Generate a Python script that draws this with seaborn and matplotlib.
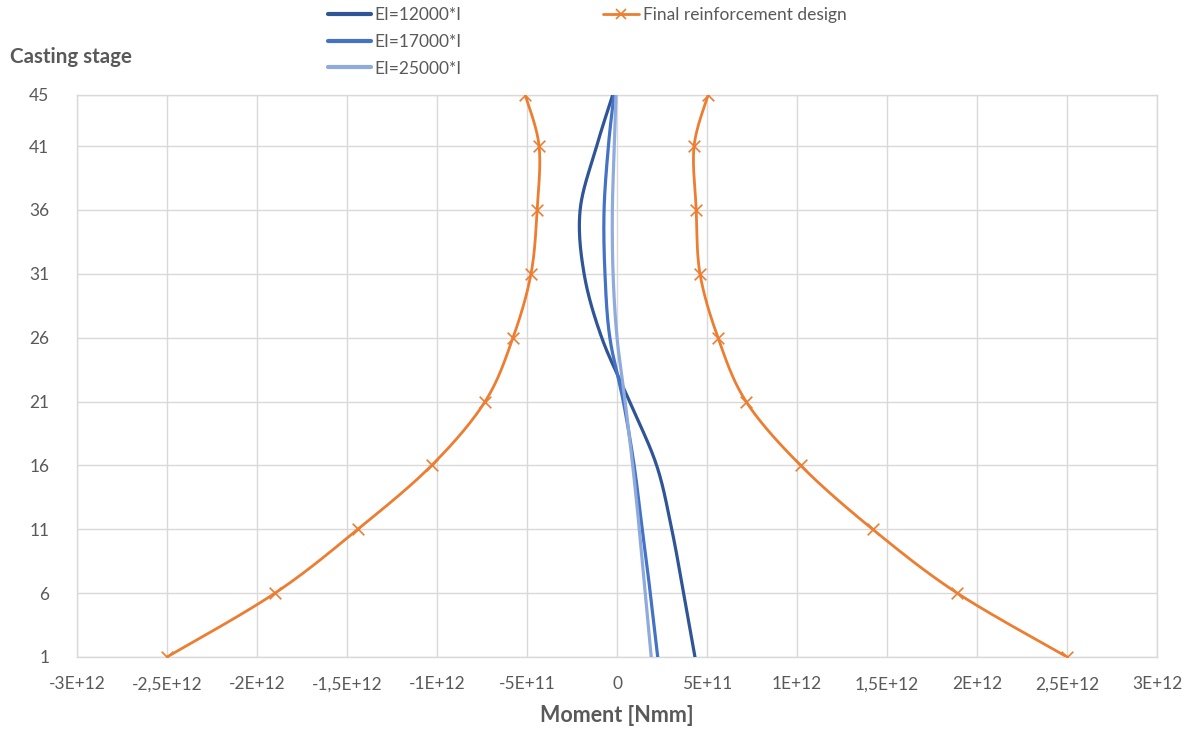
import numpy as np
import matplotlib
matplotlib.use("Agg")
import matplotlib.pyplot as plt
from matplotlib.lines import Line2D
import seaborn as sns

# Casting stages (vertical axis)
stages = [1, 6, 11, 16, 21, 26, 31, 36, 41, 45]

# Bending moment per stiffness assumption, in units of 1E12 Nmm
ei_12000 = [0.433, 0.37, 0.304, 0.22, 0.07, -0.085, -0.183, -0.205, -0.113, -0.024]
ei_17000 = [0.226, 0.185, 0.14, 0.095, 0.035, -0.04, -0.067, -0.072, -0.048, -0.017]
ei_25000 = [0.19, 0.157, 0.124, 0.087, 0.045, 0.0, -0.022, -0.026, -0.015, -0.006]

# Capacity envelope of the final reinforcement design (1E12 Nmm)
design_neg = [-2.5, -1.90, -1.44, -1.03, -0.733, -0.578, -0.478, -0.444, -0.433, -0.51]
design_pos = [2.5, 1.89, 1.42, 1.02, 0.717, 0.561, 0.461, 0.44, 0.428, 0.506]

series_labels = ["EI=12000*I", "EI=17000*I", "EI=25000*I"]
design_label = "Final reinforcement design"

x_ticks = [-3, -2.5, -2, -1.5, -1, -0.5, 0, 0.5, 1, 1.5, 2, 2.5, 3]
x_tick_labels = ["-3E+12", "-2,5E+12", "-2E+12", "-1,5E+12", "-1E+12", "-5E+11", "0",
                 "5E+11", "1E+12", "1,5E+12", "2E+12", "2,5E+12", "3E+12"]

blue_colors = ["#2F5597", "#4472C4", "#8FAADC"]
orange = "#ED7D31"
text_color = "#595959"
grid_color = "#D9D9D9"


def smooth(xs, ys, n=24):
    """Catmull-Rom style smoothing used only for rendering the line path."""
    p = np.column_stack([xs, ys]).astype(float)
    p = np.vstack([p[0], p, p[-1]])
    out = []
    t = np.linspace(0, 1, n, endpoint=False)
    for i in range(1, len(p) - 2):
        p0, p1, p2, p3 = p[i - 1], p[i], p[i + 1], p[i + 2]
        c1 = p1 + (p2 - p0) / 6.0
        c2 = p2 - (p3 - p1) / 6.0
        seg = ((1 - t) ** 3)[:, None] * p1 + (3 * (1 - t) ** 2 * t)[:, None] * c1 \
            + (3 * (1 - t) * t ** 2)[:, None] * c2 + (t ** 3)[:, None] * p2
        out.append(seg)
    out.append(p[-2][None, :])
    out = np.vstack(out)
    return out[:, 0], out[:, 1]


sns.set_theme(style="whitegrid")
plt.rcParams["font.family"] = ["Lato", "DejaVu Sans"]

fig = plt.figure(figsize=(11.89, 7.29), dpi=100)
ax = fig.add_axes([0.0648, 0.0988, 0.9083, 0.7709])
ax.set_facecolor("white")

for vals, col in zip([ei_12000, ei_17000, ei_25000], blue_colors):
    sx, sy = smooth(vals, stages)
    sns.lineplot(x=sx, y=sy, sort=False, estimator=None, color=col, lw=2.3, ax=ax, zorder=3)

for vals in [design_neg, design_pos]:
    sx, sy = smooth(vals, stages)
    sns.lineplot(x=sx, y=sy, sort=False, estimator=None, color=orange, lw=2.0, ax=ax, zorder=4)
    sns.scatterplot(x=vals, y=stages, marker="x", color=orange, s=70, linewidth=1.2, ax=ax, zorder=5)

ax.set_xlim(-3, 3)
ax.set_ylim(1, 45)
ax.set_xticks(x_ticks)
ax.set_xticklabels(x_tick_labels)
ax.set_yticks(stages)
ax.set_yticklabels([str(s) for s in stages])
ax.grid(True, color=grid_color, lw=1.0)
for sp in ax.spines.values():
    sp.set_color(grid_color)
    sp.set_linewidth(1.0)
ax.tick_params(axis="both", length=0, labelsize=12.5, labelcolor=text_color)
ax.tick_params(axis="x", pad=14)
ax.tick_params(axis="y", pad=20)

ax.set_xlabel("Moment [Nmm]", fontsize=15.5, fontweight="bold", color=text_color, labelpad=9)
ax.set_ylabel("")
fig.text(10 / 1189, 1 - 57 / 729, "Casting stage", fontsize=14.8, fontweight="bold",
         color=text_color, ha="left", va="center")

blue_handles = [Line2D([], [], color=c, lw=3) for c in blue_colors]
leg1 = fig.legend(blue_handles, series_labels, loc="upper left",
                  bbox_to_anchor=(328 / 1189, 1 - 7 / 729), frameon=False,
                  fontsize=12.5, handlelength=2.5, handletextpad=0.15, labelspacing=0.62,
                  borderpad=0, borderaxespad=0)
for t in leg1.get_texts():
    t.set_color(text_color)

orange_handle = [Line2D([], [], color=orange, lw=2, marker="x", markersize=7.5, markeredgewidth=1.2)]
leg2 = fig.legend(orange_handle, [design_label], loc="upper left",
                  bbox_to_anchor=(603 / 1189, 1 - 7 / 729), frameon=False,
                  fontsize=12.5, handlelength=2.1, handletextpad=0.2,
                  borderpad=0, borderaxespad=0)
for t in leg2.get_texts():
    t.set_color(text_color)

fig.savefig("out.png", dpi=100, facecolor="white")
